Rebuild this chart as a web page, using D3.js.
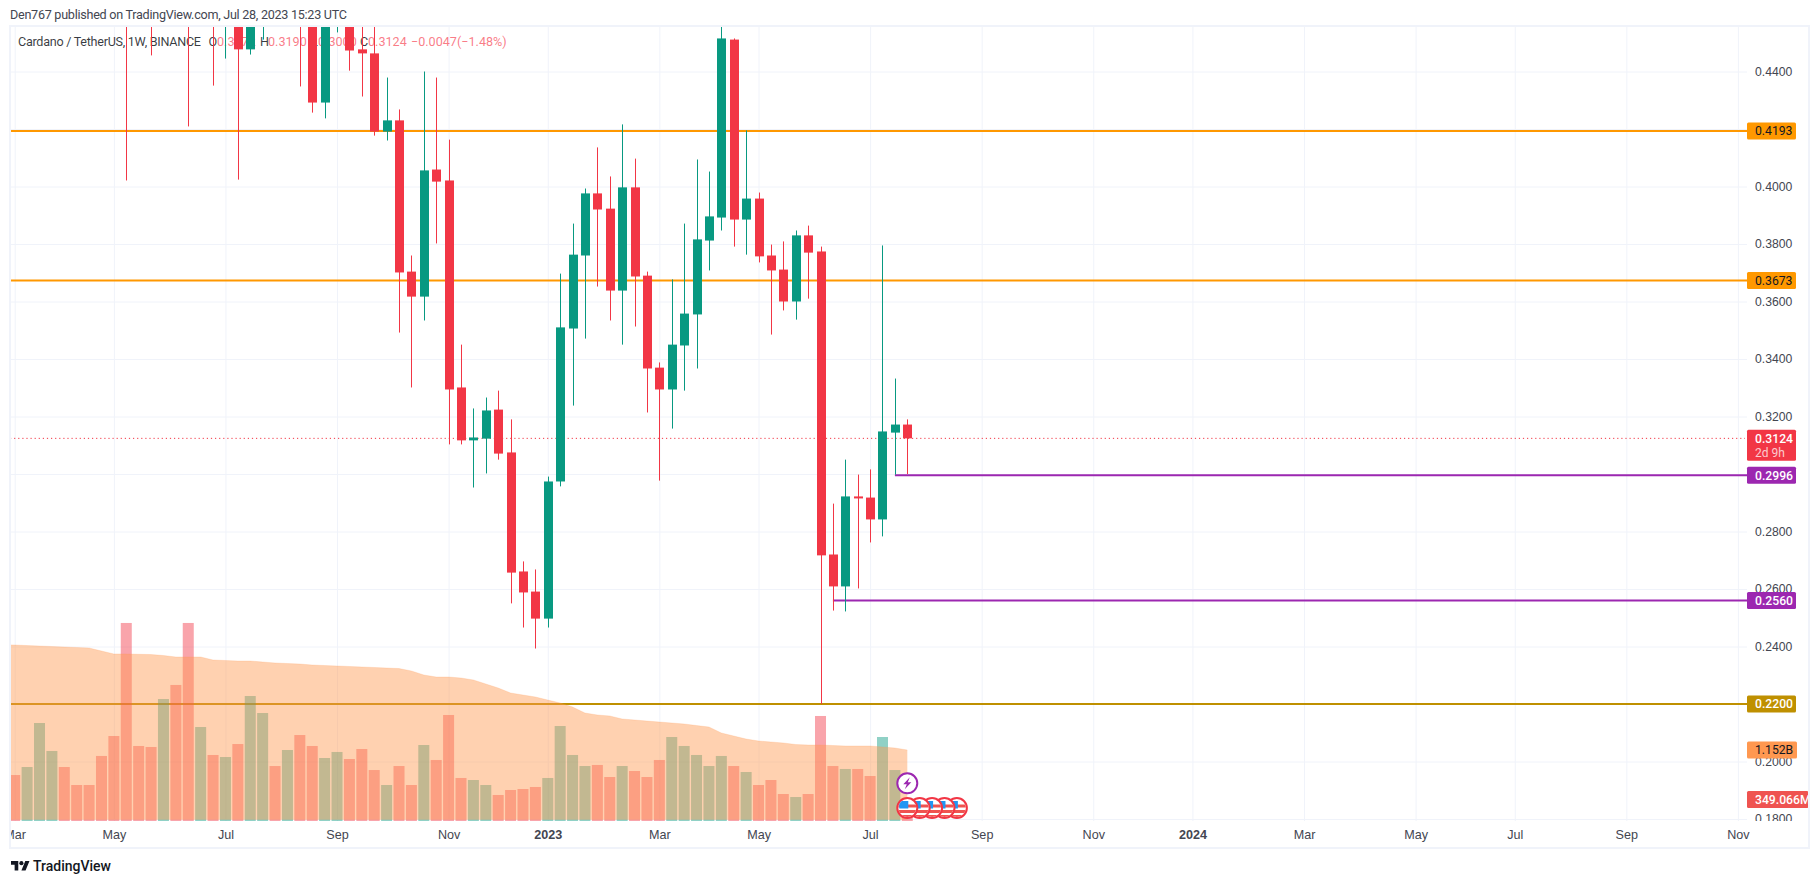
<!DOCTYPE html>
<html>
<head>
<meta charset="utf-8">
<script src="https://cdn.jsdelivr.net/npm/d3@7"></script>
<style>
    html, body { margin: 0; padding: 0; background: #fff; overflow: hidden; }
    svg { display: block; font-family: Roboto, "Open Sans", sans-serif; }
</style>
</head>
<body>
<svg width="1819" height="884"></svg>
<script>
// weekly candles, first one is the week of 28 Feb 2022. Those above the pane are rough guesses
const opens = [
    0.9, 0.84, 0.78, 0.83, 1.0, 1.16, 1.02, 0.95, 0.88, 0.8,
    0.75, 0.6, 0.6, 0.5, 0.6, 0.55, 0.47, 0.55, 0.48, 0.53,
    0.4477, 0.5, 0.54, 0.5, 0.51, 0.5, 0.4292, 0.49, 0.5, 0.4477,
    0.4463, 0.4191, 0.423, 0.3704, 0.3617, 0.4059, 0.4021, 0.3301, 0.3117, 0.3123,
    0.3224, 0.3075, 0.2661, 0.2591, 0.2497, 0.2974, 0.3506, 0.376, 0.3976, 0.3923,
    0.3638, 0.3997, 0.369, 0.337, 0.3294, 0.3447, 0.3555, 0.3812, 0.3892, 0.4511,
    0.3885, 0.3958, 0.376, 0.3711, 0.36, 0.383, 0.3774, 0.272, 0.2609, 0.2922,
    0.2918, 0.2842, 0.3144, 0.3172,
];
const highs = [
    0.95, 0.88, 0.85, 1.02, 1.24, 1.2, 1.04, 0.97, 0.9, 0.85,
    0.77, 0.65, 0.62, 0.62, 0.64, 0.6, 0.58, 0.57, 0.55, 0.55,
    0.52, 0.56, 0.55, 0.53, 0.52, 0.52, 0.52, 0.52, 0.52, 0.5,
    0.47, 0.4379, 0.4268, 0.376, 0.44, 0.4379, 0.4163, 0.345, 0.3228, 0.3266,
    0.329, 0.319, 0.2696, 0.2668, 0.2991, 0.3697, 0.3871, 0.3993, 0.4136, 0.4035,
    0.4216, 0.4097, 0.3704, 0.3388, 0.3677, 0.3871, 0.4094, 0.4052, 0.456, 0.4515,
    0.4195, 0.3979, 0.3798, 0.3809, 0.3847, 0.3864, 0.3791, 0.2897, 0.305, 0.2998,
    0.3016, 0.3795, 0.3332, 0.319,
];
const lows = [
    0.84, 0.76, 0.74, 0.82, 0.98, 1.0, 0.93, 0.85, 0.78, 0.72,
    0.4021, 0.49, 0.4456, 0.47, 0.5, 0.4209, 0.46, 0.4351, 0.4445, 0.4024,
    0.4459, 0.4511, 0.47, 0.47, 0.4348, 0.4257, 0.4237, 0.4536, 0.4403, 0.4313,
    0.4177, 0.416, 0.3492, 0.3301, 0.3534, 0.3802, 0.3103, 0.3103, 0.2953, 0.3002,
    0.305, 0.255, 0.2466, 0.2393, 0.2466, 0.2957, 0.3238, 0.3471, 0.3652, 0.3534,
    0.345, 0.3513, 0.3214, 0.2977, 0.3158, 0.329, 0.3367, 0.3708, 0.3847, 0.3791,
    0.3763, 0.3736, 0.3485, 0.3569, 0.3537, 0.361, 0.22, 0.2525, 0.2522, 0.2602,
    0.2762, 0.2783, 0.2998, 0.3,
];
const closes = [
    0.84, 0.78, 0.83, 1.0, 1.16, 1.02, 0.95, 0.88, 0.8, 0.75,
    0.52, 0.52, 0.5, 0.6, 0.55, 0.47, 0.55, 0.48, 0.53, 0.4477,
    0.5, 0.54, 0.5, 0.51, 0.47, 0.4292, 0.49, 0.5, 0.4473, 0.4463,
    0.4191, 0.423, 0.3701, 0.3617, 0.4056, 0.4017, 0.3294, 0.3117, 0.3127, 0.3221,
    0.3071, 0.2657, 0.2588, 0.2497, 0.2974, 0.351, 0.3763, 0.3976, 0.392, 0.3638,
    0.3997, 0.3687, 0.3367, 0.3294, 0.345, 0.3558, 0.3816, 0.3896, 0.4515, 0.3885,
    0.3958, 0.3757, 0.3708, 0.36, 0.383, 0.377, 0.2717, 0.2609, 0.2922, 0.2915,
    0.2842, 0.3148, 0.3172, 0.3124,
];
// volume and its moving average, in millions
const volumes = [
    900, 746, 876, 1590, 1136, 876, 584, 584, 1055, 1379,
    3213, 1217, 1201, 1979, 2207, 3213, 1525, 1071, 1038, 1249,
    2028, 1752, 892, 1152, 1395, 1217, 1022, 1120, 1006, 1168,
    827, 584, 892, 584, 1233, 990, 1720, 698, 665, 584,
    422, 503, 519, 552, 698, 1541, 1071, 892, 909, 714,
    892, 811, 714, 990, 1363, 1217, 1071, 892, 1055, 892,
    795, 584, 665, 438, 389, 438, 1704, 892, 844, 844,
    730, 1363, 827, 349,
];
const volumeMa = [
    2860, 2856, 2847, 2839, 2831, 2823, 2815, 2807, 2758, 2710,
    2710, 2705, 2701, 2685, 2661, 2661, 2661, 2612, 2604, 2596,
    2596, 2580, 2564, 2555, 2547, 2531, 2523, 2515, 2507, 2499,
    2491, 2482, 2474, 2434, 2369, 2336, 2336, 2320, 2288, 2223,
    2158, 2077, 2044, 2012, 1963, 1915, 1850, 1752, 1720, 1704,
    1655, 1639, 1622, 1606, 1590, 1574, 1549, 1525, 1428, 1379,
    1330, 1298, 1282, 1266, 1241, 1233, 1233, 1225, 1217, 1217,
    1217, 1201, 1184, 1152,
];

const priceTicks = [0.44, 0.42, 0.4, 0.38, 0.36, 0.34, 0.32, 0.3, 0.28, 0.26, 0.24, 0.22, 0.2, 0.18];
const timeTickDates = [
    "2022-03-07", "2022-05-02", "2022-07-04", "2022-09-05", "2022-11-07", "2023-01-02", "2023-03-06", "2023-05-01",
    "2023-07-03", "2023-09-04", "2023-11-06", "2024-01-01", "2024-03-04", "2024-05-06", "2024-07-01", "2024-09-02", "2024-11-04",
];
const timeTickLabels = ["Mar", "May", "Jul", "Sep", "Nov", "2023", "Mar", "May", "Jul", "Sep", "Nov", "2024", "Mar", "May", "Jul", "Sep", "Nov"];

const levelValues = [0.4193, 0.3673, 0.2996, 0.256, 0.22];
const levelStarts = ["2022-02-14", "2022-02-14", "2023-07-17", "2023-06-12", "2022-02-14"];
const levelColors = ["#ff9800", "#ff9800", "#9c27b0", "#9c27b0", "#bf9000"];
const levelTextColors = ["#131722", "#131722", "#fff", "#fff", "#fff"];

const flagDates = ["2023-07-24", "2023-07-31", "2023-08-07", "2023-08-14", "2023-08-21"];
const legendParts = [
    { x: 208.5, text: "O", dark: true }, { x: 217, text: "0.3172" },
    { x: 260, text: "H", dark: true }, { x: 268, text: "0.3190" },
    { x: 311, text: "L", dark: true }, { x: 318, text: "0.3000" },
    { x: 360, text: "C", dark: true }, { x: 368, text: "0.3124" },
    { x: 411, text: "\u22120.0047" }, { x: 457, text: "(\u22121.48%)" },
];

const up = "#089981";
const down = "#f23645";
const gridColor = "#f0f3fa";
const textColor = "#434651";
const paneLeft = 10, paneRight = 1747, paneTop = 27, paneBottom = 821;
const day = (s) => new Date(s + "T00:00:00Z");

const weeks = d3.utcMonday.range(day("2022-02-28"), day("2023-07-25"));
const candles = weeks.map((date, i) => ({
    date, open: opens[i], high: highs[i], low: lows[i], close: closes[i], volume: volumes[i], ma: volumeMa[i],
}));

const x = d3.scaleUtc().domain([day("2022-03-07"), day("2024-11-04")]).range([14.7, 1737.9]);
const y = d3.scaleLinear().domain([0.18, 0.44]).range([819, 71.5]);
const yVol = d3.scaleLinear().domain([0, 1152]).range([821, 750]);

const svg = d3.select("svg");
const defs = svg.append("defs");
const clipRect = (id, rx, ry, w, h) => defs.append("clipPath").attr("id", id).append("rect").attr("x", rx).attr("y", ry).attr("width", w).attr("height", h);
clipRect("pane", paneLeft, paneTop, paneRight - paneLeft, paneBottom - paneTop);
clipRect("priceAxis", paneRight, paneTop, 62, paneBottom - paneTop);
clipRect("timeAxis", paneLeft, paneBottom, 1799, 27);
defs.append("clipPath").attr("id", "flagCircle").append("circle").attr("r", 9);

svg.append("text").attr("x", 10).attr("y", 19).attr("font-size", 12.6).attr("fill", textColor)
    .attr("textLength", 337)
    .text("Den767 published on TradingView.com, Jul 28, 2023 15:23 UTC");

// grid
svg.append("g")
    .attr("transform", `translate(${paneLeft},0)`)
    .call(d3.axisRight(y).tickValues(priceTicks).tickSize(paneRight - paneLeft).tickFormat(""))
    .call((g) => g.select(".domain").remove())
    .call((g) => g.selectAll("line").attr("stroke", gridColor));

const pane = svg.append("g").attr("clip-path", "url(#pane)");

pane.append("g")
    .attr("transform", `translate(0,${paneTop})`)
    .call(d3.axisBottom(x).tickValues(timeTickDates.map(day)).tickSize(paneBottom - paneTop).tickFormat(""))
    .call((g) => g.select(".domain").remove())
    .call((g) => g.selectAll("line").attr("stroke", gridColor));

// legend sits under the candles
pane.append("text").attr("x", 18).attr("y", 46).attr("font-size", 12.6).attr("fill", "#131722").attr("fill-opacity", 0.85)
    .attr("textLength", 183)
    .text("Cardano / TetherUS, 1W, BINANCE");
pane.append("g").selectAll("text").data(legendParts).enter().append("text")
    .attr("x", (d) => d.x).attr("y", 46).attr("font-size", 12.6)
    .attr("fill", (d) => (d.dark ? "#131722" : "#f7525f"))
    .attr("fill-opacity", (d) => (d.dark ? 0.85 : 0.75))
    .text((d) => d.text);

// level lines
pane.append("g").selectAll("line").data(levelValues).enter().append("line")
    .attr("x1", (d, i) => x(day(levelStarts[i])))
    .attr("x2", paneRight)
    .attr("y1", (d) => y(d))
    .attr("y2", (d) => y(d))
    .attr("stroke", (d, i) => levelColors[i])
    .attr("stroke-width", 2);

// current price
pane.append("line")
    .attr("x1", paneLeft).attr("x2", paneRight - 2)
    .attr("y1", y(closes[closes.length - 1])).attr("y2", y(closes[closes.length - 1]))
    .attr("stroke", down).attr("stroke-dasharray", "1.2 2.9");

// volume
pane.append("g").selectAll("rect").data(candles).enter().append("rect")
    .attr("x", (d) => x(d.date) - 5.5)
    .attr("y", (d) => yVol(d.volume))
    .attr("width", 11)
    .attr("height", (d) => yVol(0) - yVol(d.volume) + 1)
    .attr("fill", (d) => (d.close >= d.open ? up : down))
    .attr("fill-opacity", 0.45);

pane.append("path").datum(candles)
    .attr("d", d3.area().x((d) => x(d.date)).y0(819.8).y1((d) => yVol(d.ma)))
    .attr("fill", "#ff9850")
    .attr("fill-opacity", 0.45);
pane.append("path").datum(candles)
    .attr("d", d3.line().x((d) => x(d.date)).y((d) => yVol(d.ma)))
    .attr("fill", "none")
    .attr("stroke", "#ff9850")
    .attr("stroke-opacity", 0.2)
    .attr("stroke-width", 1);

// candles
const candleGroup = pane.append("g").selectAll("g").data(candles).enter().append("g")
    .attr("fill", (d) => (d.close >= d.open ? up : down));
candleGroup.append("rect")
    .attr("x", (d) => Math.round(x(d.date)))
    .attr("width", 1)
    .attr("y", (d) => y(d.high))
    .attr("height", (d) => y(d.low) - y(d.high));
candleGroup.append("rect")
    .attr("x", (d) => Math.round(x(d.date)) - 4)
    .attr("width", 9)
    .attr("y", (d) => y(Math.max(d.open, d.close)))
    .attr("height", (d) => Math.max(1.5, Math.abs(y(d.open) - y(d.close))));

// event markers
const flags = svg.append("g").selectAll("g").data(flagDates.slice().reverse()).enter().append("g")
    .attr("transform", (d) => `translate(${x(day(d))},808)`);
flags.append("circle").attr("r", 10).attr("fill", "#fff").attr("stroke", "#f23645").attr("stroke-width", 2);
const flagBody = flags.append("g").attr("clip-path", "url(#flagCircle)");
flagBody.selectAll("rect.stripe").data([-2.5, 3, 8]).enter().append("rect")
    .attr("class", "stripe").attr("x", -10).attr("width", 20).attr("y", (d) => d - 1).attr("height", 3).attr("fill", "#ef5350");
flagBody.append("rect").attr("x", -8).attr("y", -7).attr("width", 9).attr("height", 7.5).attr("fill", "#2196f3");

const boltX = x(day("2023-07-24"));
svg.append("circle").attr("cx", boltX).attr("cy", 783.3).attr("r", 10)
    .attr("fill", "#fff").attr("stroke", "#9c27b0").attr("stroke-width", 2);
svg.append("path").attr("transform", `translate(${boltX},783.3)`)
    .attr("d", "M2.5,-6L-4,1H-0.5L-2.5,6L4,-1H0.5Z").attr("fill", "#9c27b0");

// price axis
svg.append("g").attr("clip-path", "url(#priceAxis)").append("g")
    .attr("transform", `translate(${paneRight},0)`)
    .call(d3.axisRight(y).tickValues(priceTicks).tickSize(0).tickPadding(8).tickFormat(d3.format(".4f")))
    .call((g) => g.select(".domain").remove())
    .call((g) => g.selectAll("text").attr("font-size", 12.2).attr("font-family", "inherit").attr("fill", textColor));

// time axis
svg.append("g").attr("clip-path", "url(#timeAxis)").append("g")
    .attr("transform", `translate(0,${paneBottom})`)
    .call(d3.axisBottom(x).tickValues(timeTickDates.map(day)).tickSize(0).tickPadding(9).tickFormat((d, i) => timeTickLabels[i]))
    .call((g) => g.select(".domain").remove())
    .call((g) => g.selectAll("text").attr("font-size", 12.6).attr("font-family", "inherit").attr("fill", textColor)
        .attr("font-weight", (d, i) => (timeTickLabels[i].length === 4 ? 700 : 400)));

// price tags
const tag = (value, w, h, color, labelColor, label, second) => {
    const g = svg.append("g").attr("transform", `translate(${paneRight},${value})`);
    g.append("rect").attr("y", -8.5).attr("width", w).attr("height", h).attr("rx", 1.5).attr("fill", color);
    g.append("text").attr("x", 8).attr("y", 4.4).attr("font-size", 12.2).attr("font-weight", labelColor === "#fff" ? 500 : 400).attr("fill", labelColor).text(label);
    if (second) g.append("text").attr("x", 8).attr("y", 18.6).attr("font-size", 12).attr("fill", "#fff").attr("fill-opacity", 0.75).text(second);
};
levelValues.forEach((v, i) => tag(y(v), 49, 17, levelColors[i], levelTextColors[i], d3.format(".4f")(v)));
tag(y(closes[closes.length - 1]), 49, 31, down, "#fff", "0.3124", "2d 9h");
tag(yVol(volumeMa[volumeMa.length - 1]), 50, 17, "#ff9850", "#131722", "1.152B");
tag(yVol(349.066), 61.5, 17, "#ef5350", "#fff", "349.066M");

// frame
svg.append("rect")
    .attr("x", paneLeft).attr("y", paneTop - 1).attr("width", 1799).attr("height", 822)
    .attr("fill", "none").attr("stroke", gridColor).attr("stroke-width", 2);

// footer logo
const logo = svg.append("g").attr("transform", "translate(11,859) scale(0.52)").attr("fill", "#131722");
logo.append("path").attr("d", "M14 22H7V11H0V4h14v18zM28 22h-8l7.5-18h8L28 22z");
logo.append("circle").attr("cx", 20).attr("cy", 8).attr("r", 4);
svg.append("text").attr("x", 33).attr("y", 871).attr("font-size", 14).attr("font-weight", 500).attr("fill", "#131722").text("TradingView");
</script>
</body>
</html>
